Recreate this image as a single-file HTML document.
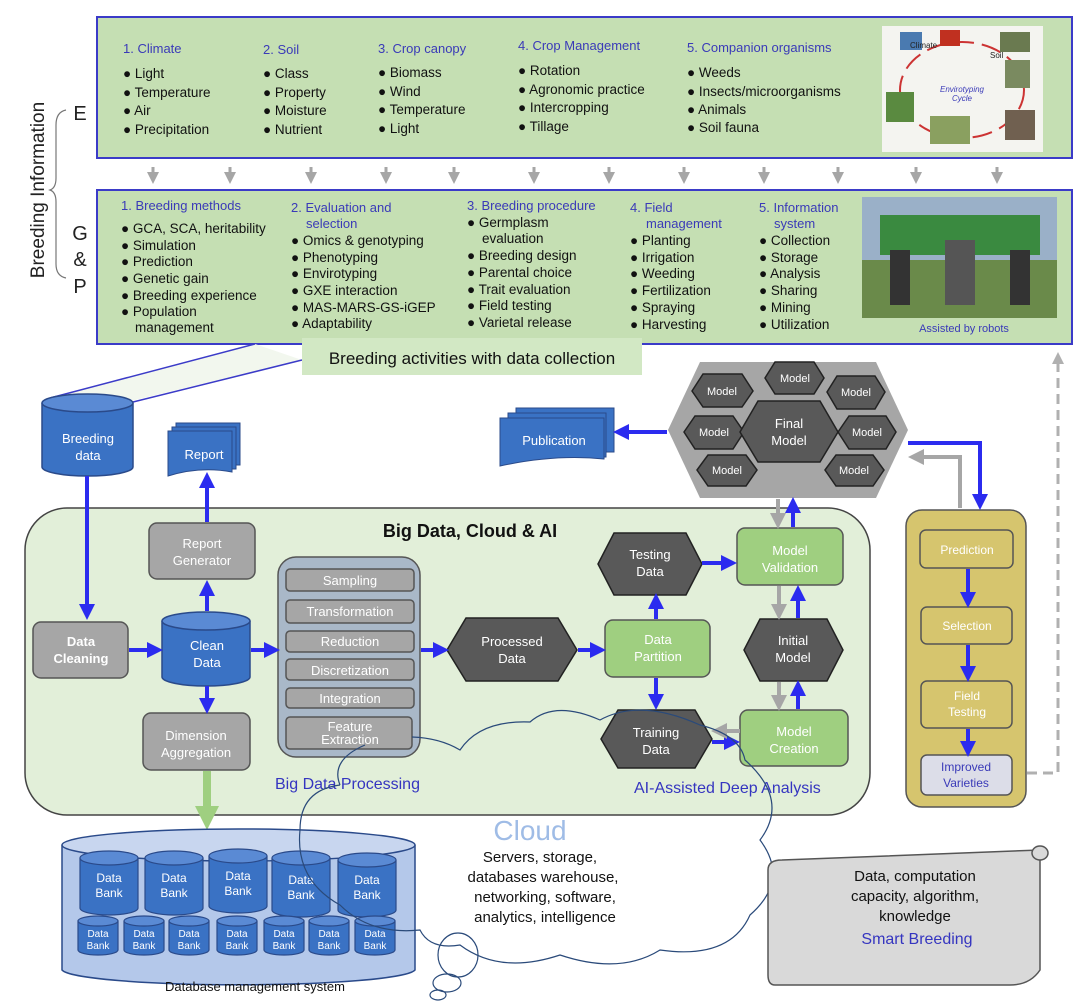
<!DOCTYPE html>
<html><head><meta charset="utf-8"><style>
html,body{margin:0;padding:0;background:#fff}
svg{display:block;font-family:"Liberation Sans",sans-serif}
</style></head><body>
<svg width="1080" height="1006" viewBox="0 0 1080 1006" xmlns="http://www.w3.org/2000/svg">
<defs>
<marker id="ab" markerWidth="4" markerHeight="4" refX="2" refY="2" orient="auto" markerUnits="strokeWidth"><path d="M0,0 L4,2 L0,4 Z" fill="#2b2bef"/></marker>
<marker id="ag" markerWidth="4" markerHeight="4" refX="2" refY="2" orient="auto" markerUnits="strokeWidth"><path d="M0,0 L4,2 L0,4 Z" fill="#a6a6a6"/></marker>
<marker id="agr" markerWidth="3" markerHeight="3" refX="1.5" refY="1.5" orient="auto" markerUnits="strokeWidth"><path d="M0,0 L3,1.5 L0,3 Z" fill="#9fcf80"/></marker>
<marker id="ad" markerWidth="4" markerHeight="4" refX="2" refY="2" orient="auto" markerUnits="strokeWidth"><path d="M0,0 L4,2 L0,4 Z" fill="#b0b0b0"/></marker>
</defs>

<text x="44" y="190" font-size="19" fill="#222" text-anchor="middle" transform="rotate(-90 44 190)">Breeding  Information</text>
<path d="M66,110 Q56,112 56,125 L56,178 Q56,188 50,190 Q56,192 56,202 L56,264 Q56,276 66,278" fill="none" stroke="#777" stroke-width="1.2"/>
<text x="80" y="120" font-size="20" fill="#222" text-anchor="middle">E</text>
<text x="80" y="240" font-size="20" fill="#222" text-anchor="middle">G</text>
<text x="80" y="266" font-size="20" fill="#222" text-anchor="middle">&amp;</text>
<text x="80" y="293" font-size="20" fill="#222" text-anchor="middle">P</text>

<rect x="97" y="17" width="975" height="141" fill="#c5dfb3" stroke="#3b3bc8" stroke-width="2"/>
<g font-size="13" fill="#3a3ab8">
<text x="123" y="53">1. Climate</text><text x="263" y="54">2. Soil</text><text x="378" y="53">3. Crop canopy</text><text x="518" y="50">4. Crop Management</text><text x="687" y="52">5. Companion organisms</text>
</g>
<g font-size="13.5" fill="#111">
<text x="123" y="78">● Light</text><text x="123" y="97">● Temperature</text><text x="123" y="115">● Air</text><text x="123" y="134">● Precipitation</text>
<text x="263" y="78">● Class</text><text x="263" y="97">● Property</text><text x="263" y="115">● Moisture</text><text x="263" y="134">● Nutrient</text>
<text x="378" y="77">● Biomass</text><text x="378" y="96">● Wind</text><text x="378" y="114">● Temperature</text><text x="378" y="133">● Light</text>
<text x="518" y="75">● Rotation</text><text x="518" y="94">● Agronomic practice</text><text x="518" y="112">● Intercropping</text><text x="518" y="131">● Tillage</text>
<text x="687" y="77">● Weeds</text><text x="687" y="96">● Insects/microorganisms</text><text x="687" y="114">● Animals</text><text x="687" y="132">● Soil fauna</text>
</g>
<rect x="882" y="26" width="161" height="126" fill="#f4f4f0"/>
<ellipse cx="962" cy="90" rx="62" ry="48" fill="none" stroke="#c33" stroke-width="2" stroke-dasharray="20 8"/>
<rect x="900" y="32" width="22" height="18" fill="#4a7ab0"/><rect x="940" y="30" width="20" height="16" fill="#c03020"/><rect x="1000" y="32" width="30" height="20" fill="#6a7a50"/>
<rect x="1005" y="60" width="25" height="28" fill="#7a8a60"/><rect x="886" y="92" width="28" height="30" fill="#5a8a40"/><rect x="930" y="116" width="40" height="28" fill="#8aa060"/><rect x="1005" y="110" width="30" height="30" fill="#706050"/>
<text x="962" y="92" font-size="8" fill="#3a3ab8" text-anchor="middle" font-style="italic">Envirotyping</text>
<text x="962" y="101" font-size="8" fill="#3a3ab8" text-anchor="middle" font-style="italic">Cycle</text>
<text x="910" y="48" font-size="8" fill="#222">Climate</text><text x="990" y="58" font-size="8" fill="#222">Soil</text>

<g stroke="#a6a6a6" stroke-width="3" marker-end="url(#ag)">
<line x1="153" y1="167" x2="153" y2="178"/><line x1="230" y1="167" x2="230" y2="178"/><line x1="311" y1="167" x2="311" y2="178"/><line x1="386" y1="167" x2="386" y2="178"/><line x1="454" y1="167" x2="454" y2="178"/><line x1="534" y1="167" x2="534" y2="178"/><line x1="609" y1="167" x2="609" y2="178"/><line x1="684" y1="167" x2="684" y2="178"/><line x1="764" y1="167" x2="764" y2="178"/><line x1="838" y1="167" x2="838" y2="178"/><line x1="916" y1="167" x2="916" y2="178"/><line x1="997" y1="167" x2="997" y2="178"/>
</g>

<rect x="97" y="190" width="975" height="154" fill="#c5dfb3" stroke="#3b3bc8" stroke-width="2"/>
<g font-size="13" fill="#3a3ab8">
<text x="121" y="210">1. Breeding methods</text><text x="291" y="212">2. Evaluation and</text><text x="306" y="228">selection</text>
<text x="467" y="210">3. Breeding procedure</text><text x="630" y="212">4. Field</text><text x="646" y="228">management</text>
<text x="759" y="212">5. Information</text><text x="774" y="228">system</text>
</g>
<g font-size="13.5" fill="#111">
<text x="121" y="233">● GCA, SCA, heritability</text><text x="121" y="250">● Simulation</text><text x="121" y="266">● Prediction</text><text x="121" y="283">● Genetic gain</text><text x="121" y="300">● Breeding experience</text><text x="121" y="316">● Population</text><text x="135" y="332">management</text>
<text x="291" y="245">● Omics &amp; genotyping</text><text x="291" y="262">● Phenotyping</text><text x="291" y="278">● Envirotyping</text><text x="291" y="295">● GXE interaction</text><text x="291" y="312">● MAS-MARS-GS-iGEP</text><text x="291" y="328">● Adaptability</text>
<text x="467" y="227">● Germplasm</text><text x="482" y="243">evaluation</text><text x="467" y="260">● Breeding design</text><text x="467" y="277">● Parental choice</text><text x="467" y="294">● Trait evaluation</text><text x="467" y="310">● Field testing</text><text x="467" y="327">● Varietal release</text>
<text x="630" y="245">● Planting</text><text x="630" y="262">● Irrigation</text><text x="630" y="278">● Weeding</text><text x="630" y="295">● Fertilization</text><text x="630" y="312">● Spraying</text><text x="630" y="329">● Harvesting</text>
<text x="759" y="245">● Collection</text><text x="759" y="262">● Storage</text><text x="759" y="278">● Analysis</text><text x="759" y="295">● Sharing</text><text x="759" y="312">● Mining</text><text x="759" y="329">● Utilization</text>
</g>
<rect x="862" y="197" width="195" height="121" fill="#9ab0c8"/>
<rect x="862" y="260" width="195" height="58" fill="#6a8a4a"/>
<rect x="880" y="215" width="160" height="40" fill="#3a8a40"/>
<rect x="890" y="250" width="20" height="55" fill="#333"/><rect x="1010" y="250" width="20" height="55" fill="#333"/><rect x="945" y="240" width="30" height="65" fill="#555"/>
<text x="964" y="332" font-size="11" fill="#3a3ab8" text-anchor="middle">Assisted by robots</text>

<polygon points="255,344 48,398 135,400 302,360" fill="#f2f7ee"/>
<line x1="255" y1="344" x2="50" y2="398" stroke="#3b3bc8" stroke-width="1.5"/>
<line x1="302" y1="360" x2="133" y2="402" stroke="#3b3bc8" stroke-width="1.5"/>
<rect x="302" y="338" width="340" height="37" fill="#d2e8c4"/>
<text x="472" y="364" font-size="17" fill="#111" text-anchor="middle">Breeding activities with data collection</text>

<path d="M42,403 L42,467 A45.5,9 0 0 0 133,467 L133,403" fill="#3a72c4" stroke="#2a4a8a" stroke-width="1.5"/>
<ellipse cx="87.5" cy="403" rx="45.5" ry="9" fill="#5a8ad4" stroke="#2a4a8a" stroke-width="1.5"/>
<text x="88" y="443" font-size="13" fill="#fff" text-anchor="middle">Breeding</text><text x="88" y="460" font-size="13" fill="#fff" text-anchor="middle">data</text>

<rect x="176" y="423" width="64" height="42" fill="#3a72c4" stroke="#2a4a8a"/>
<rect x="172" y="427" width="64" height="42" fill="#3a72c4" stroke="#2a4a8a"/>
<path d="M168,431 L232,431 L232,472 Q200,466 168,476 Z" fill="#3a72c4" stroke="#2a4a8a"/>
<text x="204" y="459" font-size="13" fill="#fff" text-anchor="middle">Report</text>

<rect x="516" y="408" width="98" height="44" fill="#3a72c4" stroke="#2a4a8a"/>
<rect x="508" y="413" width="98" height="44" fill="#3a72c4" stroke="#2a4a8a"/>
<path d="M500,418 L604,418 L604,459 Q555,454 500,466 Z" fill="#3a72c4" stroke="#2a4a8a"/>
<text x="554" y="445" font-size="13" fill="#fff" text-anchor="middle">Publication</text>

<rect x="25" y="508" width="845" height="307" rx="42" fill="#e2efd9" stroke="#444" stroke-width="1.5"/>
<text x="470" y="537" font-size="18" font-weight="bold" fill="#111" text-anchor="middle">Big Data, Cloud &amp; AI</text>

<g stroke="#555" stroke-width="1.5" fill="#a6a6a6">
<rect x="149" y="523" width="106" height="56" rx="8"/>
<rect x="33" y="622" width="95" height="56" rx="8"/>
<rect x="143" y="713" width="107" height="57" rx="8"/>
</g>
<g font-size="13" fill="#fff" text-anchor="middle">
<text x="202" y="548">Report</text><text x="202" y="565">Generator</text>
<text x="81" y="646" font-weight="bold">Data</text><text x="81" y="663" font-weight="bold">Cleaning</text>
<text x="196" y="740">Dimension</text><text x="196" y="757">Aggregation</text>
</g>
<path d="M162,621 L162,677 A44,9 0 0 0 250,677 L250,621" fill="#3a72c4" stroke="#2a4a8a" stroke-width="1.5"/>
<ellipse cx="206" cy="621" rx="44" ry="9" fill="#5a8ad4" stroke="#2a4a8a" stroke-width="1.5"/>
<text x="207" y="650" font-size="13" fill="#fff" text-anchor="middle">Clean</text><text x="207" y="667" font-size="13" fill="#fff" text-anchor="middle">Data</text>

<rect x="278" y="557" width="142" height="200" rx="18" fill="#a9b8c8" stroke="#555" stroke-width="1.5"/>
<g fill="#a6a6a6" stroke="#555" stroke-width="1.5">
<rect x="286" y="569" width="128" height="22" rx="4"/><rect x="286" y="600" width="128" height="23" rx="4"/><rect x="286" y="631" width="128" height="21" rx="4"/><rect x="286" y="659" width="128" height="21" rx="4"/><rect x="286" y="688" width="128" height="20" rx="4"/><rect x="286" y="717" width="126" height="32" rx="4"/>
</g>
<g font-size="13" fill="#fff" text-anchor="middle">
<text x="350" y="585">Sampling</text><text x="350" y="616">Transformation</text><text x="350" y="646">Reduction</text><text x="350" y="675">Discretization</text><text x="350" y="703">Integration</text><text x="350" y="731">Feature</text><text x="350" y="744">Extraction</text>
</g>
<text x="275" y="789" font-size="16" fill="#3535c0">Big Data Processing</text>

<g fill="#595959" stroke="#222" stroke-width="1.5">
<polygon points="447,650 466,618 558,618 577,650 558,681 466,681"/>
<polygon points="598,564 614,533 686,533 702,564 686,595 614,595"/>
<polygon points="744,650 760,619 827,619 843,650 827,681 760,681"/>
<polygon points="601,739 618,710 695,710 712,739 695,768 618,768"/>
</g>
<g font-size="13" fill="#fff" text-anchor="middle">
<text x="512" y="646">Processed</text><text x="512" y="663">Data</text>
<text x="650" y="559">Testing</text><text x="650" y="576">Data</text>
<text x="793" y="645">Initial</text><text x="793" y="662">Model</text>
<text x="656" y="737">Training</text><text x="656" y="754">Data</text>
</g>
<g fill="#9fcf80" stroke="#555" stroke-width="1.5">
<rect x="605" y="620" width="105" height="57" rx="8"/>
<rect x="737" y="528" width="106" height="57" rx="8"/>
<rect x="740" y="710" width="108" height="56" rx="8"/>
</g>
<g font-size="13" fill="#fff" text-anchor="middle">
<text x="658" y="644">Data</text><text x="658" y="661">Partition</text>
<text x="790" y="555">Model</text><text x="790" y="572">Validation</text>
<text x="794" y="736">Model</text><text x="794" y="753">Creation</text>
</g>
<text x="634" y="793" font-size="16" fill="#3535c0">AI-Assisted Deep Analysis</text>

<polygon points="668,430 700,362 876,362 908,430 876,498 700,498" fill="#a6a6a6"/>
<g fill="#595959" stroke="#222" stroke-width="1.5">
<polygon points="692,391 703,374 742,374 753,391 742,407 703,407"/>
<polygon points="765,378 775,362 814,362 824,378 814,394 775,394"/>
<polygon points="827,392 837,376 875,376 885,392 875,409 837,409"/>
<polygon points="684,432 695,416 733,416 744,432 733,449 695,449"/>
<polygon points="838,432 849,416 886,416 896,432 886,449 849,449"/>
<polygon points="697,470 708,455 746,455 757,470 746,486 708,486"/>
<polygon points="825,470 836,455 873,455 884,470 873,486 836,486"/>
<polygon points="740,432 758,401 820,401 838,432 820,462 758,462"/>
</g>
<g font-size="11" fill="#fff" text-anchor="middle">
<text x="722" y="395">Model</text><text x="795" y="382">Model</text><text x="856" y="396">Model</text><text x="714" y="436">Model</text><text x="867" y="436">Model</text><text x="727" y="474">Model</text><text x="854" y="474">Model</text>
</g>
<text x="789" y="428" font-size="13" fill="#fff" text-anchor="middle">Final</text><text x="789" y="445" font-size="13" fill="#fff" text-anchor="middle">Model</text>

<rect x="906" y="510" width="120" height="297" rx="16" fill="#d6c56e" stroke="#555" stroke-width="1.5"/>
<g fill="#d6c56e" stroke="#555" stroke-width="1.5">
<rect x="920" y="530" width="93" height="38" rx="6"/><rect x="921" y="607" width="91" height="37" rx="6"/><rect x="921" y="681" width="91" height="47" rx="6"/>
</g>
<rect x="921" y="755" width="91" height="40" rx="6" fill="#dcdde8" stroke="#555" stroke-width="1.5"/>
<g font-size="12" fill="#fff" text-anchor="middle">
<text x="967" y="554">Prediction</text><text x="967" y="630">Selection</text><text x="967" y="700">Field</text><text x="967" y="716">Testing</text>
</g>
<text x="966" y="771" font-size="12" fill="#3a3ab8" text-anchor="middle">Improved</text><text x="966" y="787" font-size="12" fill="#3a3ab8" text-anchor="middle">Varieties</text>
<path d="M1027,773 L1058,773 L1058,358" fill="none" stroke="#b0b0b0" stroke-width="3" stroke-dasharray="10 6" marker-end="url(#ad)"/>

<g stroke="#2b2bef" stroke-width="4" fill="none" marker-end="url(#ab)">
<line x1="87" y1="476" x2="87" y2="612"/>
<line x1="129" y1="650" x2="155" y2="650"/>
<line x1="207" y1="611" x2="207" y2="588"/>
<line x1="207" y1="522" x2="207" y2="480"/>
<line x1="207" y1="686" x2="207" y2="706"/>
<line x1="251" y1="650" x2="272" y2="650"/>
<line x1="421" y1="650" x2="441" y2="650"/>
<line x1="578" y1="650" x2="598" y2="650"/>
<line x1="656" y1="619" x2="656" y2="601"/>
<line x1="656" y1="678" x2="656" y2="702"/>
<line x1="702" y1="563" x2="729" y2="563"/>
<line x1="712" y1="742" x2="732" y2="742"/>
<line x1="798" y1="709" x2="798" y2="688"/>
<line x1="798" y1="618" x2="798" y2="593"/>
<line x1="793" y1="527" x2="793" y2="505"/>
<line x1="667" y1="432" x2="621" y2="432"/>
<path d="M908,443 L980,443 L980,502"/>
<line x1="968" y1="569" x2="968" y2="600"/>
<line x1="968" y1="645" x2="968" y2="674"/>
<line x1="968" y1="729" x2="968" y2="749"/>
</g>
<g stroke="#a6a6a6" stroke-width="4" fill="none" marker-end="url(#ag)">
<line x1="740" y1="731" x2="719" y2="731"/>
<line x1="779" y1="682" x2="779" y2="703"/>
<line x1="779" y1="586" x2="779" y2="612"/>
<line x1="778" y1="499" x2="778" y2="521"/>
<path d="M960,508 L960,457 L916,457"/>
</g>
<line x1="207" y1="771" x2="207" y2="818" stroke="#9fcf80" stroke-width="8" marker-end="url(#agr)"/>

<path d="M62,845 L62,970 A177,16 0 0 0 415,970 L415,845" fill="#b4c8ea" stroke="#2a4a8a" stroke-width="1.5"/>
<ellipse cx="238.5" cy="845" rx="176.5" ry="16" fill="#c8d6ef" stroke="#2a4a8a" stroke-width="1.5"/>
<g stroke="#2a4a8a" stroke-width="1.2">
<g fill="#3a72c4">
<path d="M80,858 L80,908 A29,7 0 0 0 138,908 L138,858"/><path d="M145,858 L145,908 A29,7 0 0 0 203,908 L203,858"/><path d="M209,856 L209,906 A29,7 0 0 0 267,906 L267,856"/><path d="M272,858 L272,910 A29,7 0 0 0 330,910 L330,858"/><path d="M338,860 L338,910 A29,7 0 0 0 396,910 L396,860"/>
<path d="M78,921 L78,950 A20,5 0 0 0 118,950 L118,921"/><path d="M124,921 L124,950 A20,5 0 0 0 164,950 L164,921"/><path d="M169,921 L169,950 A20,5 0 0 0 209,950 L209,921"/><path d="M217,921 L217,950 A20,5 0 0 0 257,950 L257,921"/><path d="M264,921 L264,950 A20,5 0 0 0 304,950 L304,921"/><path d="M309,921 L309,950 A20,5 0 0 0 349,950 L349,921"/><path d="M355,921 L355,950 A20,5 0 0 0 395,950 L395,921"/>
</g>
<g fill="#5a8ad4">
<ellipse cx="109" cy="858" rx="29" ry="7"/><ellipse cx="174" cy="858" rx="29" ry="7"/><ellipse cx="238" cy="856" rx="29" ry="7"/><ellipse cx="301" cy="858" rx="29" ry="7"/><ellipse cx="367" cy="860" rx="29" ry="7"/>
<ellipse cx="98" cy="921" rx="20" ry="5"/><ellipse cx="144" cy="921" rx="20" ry="5"/><ellipse cx="189" cy="921" rx="20" ry="5"/><ellipse cx="237" cy="921" rx="20" ry="5"/><ellipse cx="284" cy="921" rx="20" ry="5"/><ellipse cx="329" cy="921" rx="20" ry="5"/><ellipse cx="375" cy="921" rx="20" ry="5"/>
</g>
</g>
<g font-size="12" fill="#fff" text-anchor="middle">
<text x="109" y="882">Data</text><text x="109" y="897">Bank</text><text x="174" y="882">Data</text><text x="174" y="897">Bank</text><text x="238" y="880">Data</text><text x="238" y="895">Bank</text><text x="301" y="884">Data</text><text x="301" y="899">Bank</text><text x="367" y="884">Data</text><text x="367" y="899">Bank</text>
</g>
<g font-size="10" fill="#fff" text-anchor="middle">
<text x="98" y="937">Data</text><text x="98" y="949">Bank</text><text x="144" y="937">Data</text><text x="144" y="949">Bank</text><text x="189" y="937">Data</text><text x="189" y="949">Bank</text><text x="237" y="937">Data</text><text x="237" y="949">Bank</text><text x="284" y="937">Data</text><text x="284" y="949">Bank</text><text x="329" y="937">Data</text><text x="329" y="949">Bank</text><text x="375" y="937">Data</text><text x="375" y="949">Bank</text>
</g>
<text x="255" y="991" font-size="13" fill="#111" text-anchor="middle">Database management system</text>

<g fill="none" stroke="#2a4a7a" stroke-width="1.2">
<path d="M412,737 Q440,738 460,750 Q480,720 530,722 Q555,700 600,720 Q640,698 700,725 Q740,735 745,760 Q790,800 760,840 Q790,880 750,915 Q730,960 660,950 Q620,975 560,955 Q500,975 460,945 Q430,950 420,930 Q370,935 340,905 Q295,880 300,830 Q300,790 340,785"/>
<path d="M340,785 Q330,760 365,745"/>
<ellipse cx="458" cy="955" rx="20" ry="22"/>
<ellipse cx="447" cy="983" rx="14" ry="9"/>
<ellipse cx="438" cy="995" rx="8" ry="5"/>
</g>
<text x="530" y="840" font-size="28" fill="#9fbce6" text-anchor="middle">Cloud</text>
<g font-size="15" fill="#111" text-anchor="middle">
<text x="540" y="862">Servers, storage,</text><text x="543" y="882">databases warehouse,</text><text x="545" y="902">networking, software,</text><text x="545" y="922">analytics, intelligence</text>
</g>

<path d="M782,860 L1040,850 L1040,970 Q1030,985 1010,985 L775,985 Q768,985 768,975 L768,870 Q768,860 782,860 Z" fill="#d9d9d9" stroke="#555" stroke-width="1.5"/>
<ellipse cx="1040" cy="853" rx="8" ry="7" fill="#d9d9d9" stroke="#555" stroke-width="1.5"/>
<g font-size="15" fill="#111" text-anchor="middle">
<text x="915" y="881">Data, computation</text><text x="915" y="901">capacity, algorithm,</text><text x="915" y="921">knowledge</text>
</g>
<text x="917" y="944" font-size="16" fill="#3535c0" text-anchor="middle">Smart Breeding</text>
</svg>
</body></html>
